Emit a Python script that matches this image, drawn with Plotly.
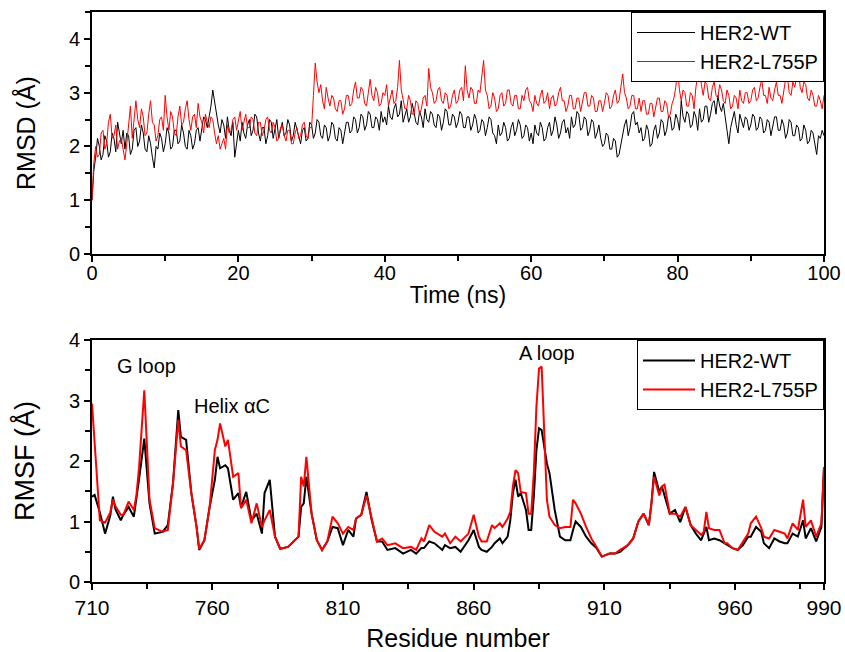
import plotly.graph_objects as go

# ---------------- RMSD (top panel), sampled every 0.25 ns ----------------
time_ns = [i * 0.25 for i in range(401)]

rmsd_wt = [
    1.00, 1.55, 1.80, 2.15, 2.00, 1.75, 1.85, 2.20, 2.10, 1.80, 1.90, 2.25, 2.15, 1.90, 2.45, 2.20, 2.05, 2.30, 1.95, 2.25,
    2.20, 1.85, 1.95, 2.30, 2.35, 2.00, 2.10, 2.40, 2.25, 1.95, 1.90, 2.20, 2.05, 1.80, 1.60, 2.00, 1.95, 2.25, 2.15, 1.90,
    2.05, 2.35, 2.25, 1.95, 2.00, 2.30, 2.30, 2.05, 2.10, 2.40, 2.25, 2.00, 1.95, 2.30, 2.20, 1.95, 2.05, 2.30, 2.35, 2.10,
    2.30, 2.55, 2.50, 2.35, 2.55, 2.75, 3.05, 2.80, 2.55, 2.40, 2.25, 2.50, 2.40, 2.15, 2.55, 2.30, 2.20, 2.45, 1.80, 2.10,
    2.30, 2.10, 2.45, 2.25, 2.15, 2.40, 2.50, 2.20, 2.30, 2.60, 2.55, 2.25, 2.10, 2.35, 2.35, 2.05, 2.20, 2.50, 2.45, 2.15,
    2.30, 2.50, 2.15, 2.30, 2.45, 2.20, 2.25, 2.50, 2.40, 2.10, 2.20, 2.45, 2.30, 2.15, 2.05, 2.30, 2.35, 2.10, 2.15, 2.45,
    2.40, 2.15, 2.25, 2.50, 2.45, 2.20, 2.15, 2.40, 2.35, 2.10, 2.20, 2.45, 2.40, 2.15, 2.10, 2.35, 2.30, 2.05, 2.25, 2.45,
    2.45, 2.25, 2.30, 2.55, 2.50, 2.25, 2.35, 2.60, 2.55, 2.30, 2.40, 2.65, 2.60, 2.35, 2.35, 2.55, 2.50, 2.30, 2.65, 2.45,
    2.55, 2.40, 2.75, 2.55, 2.50, 2.70, 2.80, 2.55, 2.60, 2.85, 2.45, 2.60, 2.70, 2.45, 2.55, 2.80, 2.65, 2.45, 2.40, 2.65,
    2.55, 2.35, 2.70, 2.50, 2.45, 2.65, 2.60, 2.40, 2.35, 2.60, 2.55, 2.30, 2.45, 2.70, 2.65, 2.40, 2.40, 2.60, 2.55, 2.35,
    2.45, 2.65, 2.60, 2.35, 2.35, 2.55, 2.55, 2.30, 2.40, 2.60, 2.50, 2.25, 2.30, 2.50, 2.45, 2.20, 2.35, 2.55, 2.50, 2.25,
    2.20, 2.05, 2.40, 2.20, 2.25, 2.45, 2.35, 2.10, 2.15, 2.35, 2.45, 2.20, 2.30, 2.50, 2.40, 2.15, 2.20, 2.40, 2.35, 2.10,
    2.25, 2.05, 2.40, 2.25, 2.20, 2.45, 2.35, 2.10, 2.15, 2.35, 2.45, 2.20, 2.30, 2.55, 2.40, 2.15, 2.25, 2.45, 2.50, 2.25,
    2.35, 2.15, 2.55, 2.35, 2.40, 2.65, 2.60, 2.30, 2.35, 2.55, 2.50, 2.20, 2.30, 2.50, 2.45, 2.15, 2.25, 2.40, 2.15, 2.00,
    2.05, 2.25, 2.20, 1.95, 1.95, 2.15, 2.10, 1.80, 1.85, 2.05, 2.25, 2.40, 2.50, 2.20, 2.35, 2.60, 2.65, 2.40, 2.45, 2.25,
    2.35, 2.10, 2.15, 2.40, 2.30, 2.00, 2.05, 2.30, 2.40, 2.15, 2.25, 2.50, 2.45, 2.20, 2.30, 2.55, 2.55, 2.30, 2.35, 2.60,
    2.50, 2.30, 2.85, 2.55, 2.45, 2.65, 2.60, 2.35, 2.40, 2.65, 2.55, 2.30, 2.70, 2.45, 2.50, 2.75, 2.75, 2.45, 2.60, 2.80,
    2.85, 2.60, 2.95, 2.75, 2.65, 2.80, 2.55, 2.30, 2.05, 2.35, 2.50, 2.65, 2.40, 2.25, 2.60, 2.45, 2.35, 2.55, 2.50, 2.30,
    2.40, 2.60, 2.55, 2.30, 2.35, 2.55, 2.50, 2.25, 2.30, 2.50, 2.45, 2.20, 2.35, 2.55, 2.55, 2.30, 2.30, 2.50, 2.40, 2.15,
    2.25, 2.50, 2.45, 2.20, 2.20, 2.40, 2.35, 2.10, 2.15, 2.40, 2.30, 2.05, 2.10, 2.30, 2.25, 2.00, 1.85, 2.20, 2.15, 2.30,
    2.20,
]

rmsd_mut = [
    1.00, 1.70, 2.00, 1.80, 1.85, 2.25, 2.30, 1.95, 2.05, 2.45, 2.60, 2.15, 2.20, 2.40, 1.95, 2.10, 2.15, 1.90, 1.75, 2.05,
    2.40, 2.75, 2.15, 2.45, 2.85, 2.50, 2.35, 2.70, 2.55, 2.20, 2.25, 2.60, 2.85, 2.45, 2.40, 2.10, 2.20, 2.50, 2.55, 2.30,
    2.95, 2.55, 2.30, 2.65, 2.55, 2.25, 2.20, 2.55, 2.75, 2.40, 2.45, 2.70, 2.85, 2.50, 2.30, 2.55, 2.60, 2.35, 2.80, 2.55,
    2.45, 2.25, 2.60, 2.45, 2.35, 2.55, 2.50, 2.25, 2.05, 2.20, 1.95, 2.05, 2.15, 1.95, 2.40, 2.25, 2.30, 2.50, 2.55, 2.30,
    2.45, 2.65, 2.30, 2.45, 2.60, 2.35, 2.35, 2.55, 2.50, 2.25, 2.20, 2.45, 2.45, 2.20, 2.30, 2.50, 2.55, 2.30, 2.25, 2.45,
    2.35, 2.10, 2.15, 2.35, 2.40, 2.20, 2.10, 2.30, 2.30, 2.05, 2.05, 2.25, 2.35, 2.15, 2.20, 2.40, 2.45, 2.20, 2.15, 2.35,
    2.35, 2.95, 3.55, 3.20, 3.00, 3.15, 2.85, 2.70, 3.10, 2.90, 2.75, 2.95, 2.90, 2.70, 2.65, 2.85, 2.85, 2.60, 2.70, 2.95,
    2.95, 2.75, 2.80, 3.05, 3.20, 2.90, 2.90, 3.10, 3.05, 2.80, 2.75, 3.00, 3.25, 2.95, 2.85, 3.10, 3.00, 2.75, 2.80, 3.00,
    2.95, 3.15, 2.75, 2.90, 3.05, 2.80, 2.85, 3.10, 3.60, 3.05, 2.90, 2.70, 2.70, 2.95, 2.85, 2.60, 2.60, 2.85, 2.80, 2.60,
    2.70, 2.90, 2.95, 2.75, 3.45, 3.10, 3.00, 2.80, 2.85, 3.05, 3.10, 2.85, 2.80, 3.00, 2.95, 2.70, 2.75, 2.95, 3.05, 2.80,
    2.85, 3.05, 3.10, 2.85, 3.50, 3.05, 2.90, 3.10, 3.05, 2.80, 2.80, 3.05, 3.00, 3.25, 3.60, 3.05, 2.95, 2.70, 2.75, 3.00,
    2.90, 2.65, 2.70, 2.95, 3.00, 2.75, 2.80, 3.05, 3.05, 2.80, 2.75, 2.95, 2.95, 2.70, 2.70, 2.95, 2.85, 3.05, 3.10, 2.85,
    2.80, 2.65, 2.95, 2.80, 2.75, 2.95, 3.05, 2.80, 2.85, 3.00, 2.70, 2.90, 2.95, 2.75, 2.80, 3.00, 3.10, 2.85, 2.85, 2.65,
    2.75, 2.95, 2.95, 2.70, 2.70, 2.90, 2.90, 2.65, 2.80, 3.00, 3.00, 2.75, 2.75, 2.95, 2.90, 2.65, 2.65, 2.85, 2.85, 2.65,
    2.80, 3.00, 2.95, 2.70, 2.75, 2.95, 3.05, 2.80, 2.85, 3.10, 3.35, 3.00, 2.90, 2.70, 2.75, 2.95, 2.95, 2.70, 2.70, 2.90,
    2.65, 2.85, 2.85, 2.60, 2.60, 2.80, 2.80, 2.55, 2.70, 2.90, 2.90, 2.65, 2.65, 2.85, 2.80, 2.55, 2.60, 2.80, 2.90, 3.10,
    3.45, 3.05, 2.85, 3.05, 3.00, 2.75, 2.75, 3.00, 2.95, 2.70, 3.10, 3.30, 3.55, 3.15, 2.95, 3.20, 3.15, 2.90, 2.85, 3.10,
    3.20, 2.95, 2.90, 3.15, 3.05, 2.85, 2.80, 3.05, 2.95, 2.70, 2.75, 2.95, 2.90, 2.70, 3.05, 2.85, 2.80, 3.00, 3.00, 2.80,
    2.85, 3.05, 3.10, 2.85, 2.90, 3.10, 3.25, 2.95, 2.95, 2.80, 3.10, 2.90, 2.85, 3.05, 3.20, 2.95, 2.95, 2.80, 3.05, 3.25,
    3.30, 3.00, 2.95, 3.20, 3.10, 3.25, 3.45, 3.10, 3.00, 3.20, 3.15, 2.90, 2.85, 3.05, 2.95, 2.75, 2.75, 2.95, 2.85, 2.70,
    2.95,
]

# ---------------- RMSF (bottom panel) ----------------
residues = [
    714, 715, 717, 719, 721, 722, 723, 725, 726, 728, 730, 731, 732, 734, 736, 738,
    741, 743, 745, 747, 748, 750, 752, 754, 755, 757, 759, 761, 762, 763, 765, 766,
    768, 770, 771, 773, 775, 777, 779, 780, 782, 784, 786, 789, 791, 793, 794, 795,
    796, 798, 800, 802, 804, 806, 808, 810, 812, 814, 815, 817, 819, 821, 823, 825,
    827, 830, 833, 836, 838, 840, 841, 843, 845, 848, 849, 851, 853, 855, 858, 860,
    862, 863, 865, 867, 868, 870, 871, 873, 874, 875, 876, 877, 878, 880, 881, 882,
    883, 884, 885, 886, 888, 889, 891, 893, 895, 897, 898, 899, 901, 903, 905, 907,
    909, 912, 914, 916, 919, 921, 923, 925, 927, 928, 929, 931, 932, 933, 935, 937,
    939, 941, 943, 945, 947, 948, 949, 950, 952, 954, 956, 957, 959, 961, 963, 965,
    966, 968, 970, 971, 973, 975, 977, 979, 980, 982, 984, 986, 987, 989, 991, 993,
    994,
]

rmsf_wt = [
    1.41, 1.44, 1.15, 0.80, 1.10, 1.41, 1.20, 1.02, 1.11, 1.24, 1.08, 1.38, 1.70, 2.37, 1.30, 0.80,
    0.83, 0.94, 1.64, 2.84, 2.40, 2.35, 1.47, 0.91, 0.53, 0.69, 1.24, 1.69, 2.07, 1.88, 1.93, 1.88,
    1.36, 1.47, 1.24, 1.49, 1.02, 1.13, 0.80, 1.47, 1.69, 0.75, 0.55, 0.58, 0.67, 0.75, 1.24, 1.30,
    1.74, 1.13, 0.69, 0.53, 0.67, 0.91, 0.89, 0.61, 0.86, 0.75, 1.05, 1.11, 1.49, 1.02, 0.67, 0.67,
    0.53, 0.56, 0.47, 0.53, 0.47, 0.56, 0.56, 0.67, 0.64, 0.53, 0.61, 0.56, 0.58, 0.50, 0.69, 0.86,
    0.58, 0.53, 0.50, 0.58, 0.64, 0.72, 0.64, 0.75, 1.02, 1.47, 1.69, 1.41, 1.47, 1.19, 0.86, 0.86,
    1.41, 2.18, 2.54, 2.51, 1.96, 1.80, 1.19, 0.75, 0.69, 0.69, 0.86, 1.00, 0.91, 0.75, 0.64, 0.56,
    0.42, 0.47, 0.47, 0.50, 0.61, 0.72, 1.00, 1.13, 0.94, 1.30, 1.82, 1.49, 1.58, 1.43, 1.13, 1.19,
    0.99, 1.24, 0.94, 0.80, 0.69, 0.80, 0.91, 0.69, 0.72, 0.69, 0.64, 0.61, 0.56, 0.53, 0.61, 0.75,
    0.75, 0.91, 0.83, 0.64, 0.56, 0.72, 0.67, 0.64, 0.64, 0.80, 0.75, 1.02, 0.72, 0.89, 0.67, 0.91,
    1.90,
]

rmsf_mut = [
    2.95, 2.30, 1.02, 0.98, 1.15, 1.36, 1.25, 1.11, 1.11, 1.33, 1.19, 1.44, 1.89, 3.17, 1.36, 0.89,
    0.83, 0.86, 1.64, 2.68, 2.24, 2.18, 1.47, 0.91, 0.55, 0.69, 1.24, 2.18, 2.35, 2.62, 2.24, 2.35,
    1.74, 1.80, 1.22, 1.36, 0.97, 1.30, 0.91, 1.02, 1.19, 0.75, 0.55, 0.58, 0.67, 0.75, 1.74, 1.58,
    2.07, 1.13, 0.69, 0.53, 0.67, 1.08, 0.97, 0.80, 0.91, 0.86, 1.05, 1.11, 1.43, 1.02, 0.67, 0.72,
    0.61, 0.64, 0.56, 0.58, 0.53, 0.72, 0.67, 0.94, 0.83, 0.75, 0.80, 0.64, 0.75, 0.67, 0.80, 1.11,
    0.75, 0.67, 0.67, 0.94, 0.89, 0.97, 0.91, 1.05, 1.16, 1.58, 1.85, 1.80, 1.49, 1.47, 1.13, 1.13,
    1.80, 2.90, 3.53, 3.56, 1.36, 1.08, 0.94, 0.89, 0.91, 0.91, 1.36, 1.30, 1.13, 0.91, 0.72, 0.58,
    0.42, 0.47, 0.47, 0.53, 0.61, 0.72, 1.00, 1.13, 0.94, 1.30, 1.74, 1.43, 1.58, 1.61, 1.13, 1.13,
    1.08, 1.24, 0.94, 0.86, 0.78, 0.83, 1.16, 0.89, 0.86, 0.86, 0.64, 0.64, 0.56, 0.53, 0.67, 0.80,
    0.97, 1.08, 0.89, 0.75, 0.72, 0.86, 0.83, 0.80, 0.72, 0.97, 0.86, 1.36, 0.91, 1.02, 0.75, 0.97,
    1.90,
]

series_names = ["HER2-WT", "HER2-L755P"]
res_tickvals = [714, 760, 810, 860, 910, 960, 994]
res_ticktext = ["710", "760", "810", "860", "910", "960", "990"]

annotations_text = ["G loop", "Helix αC", "A loop"]
annotations_x = [735, 767.5, 888]
annotations_y = [3.57, 2.91, 3.79]

FONT = "Liberation Sans, Arial, sans-serif"

fig = go.Figure()
fig.add_trace(go.Scatter(x=time_ns, y=rmsd_wt, mode="lines", name=series_names[0],
                         line=dict(color="black", width=1), xaxis="x", yaxis="y", legend="legend"))
fig.add_trace(go.Scatter(x=time_ns, y=rmsd_mut, mode="lines", name=series_names[1],
                         line=dict(color="#ff0000", width=1), xaxis="x", yaxis="y", legend="legend"))
fig.add_trace(go.Scatter(x=residues, y=rmsf_wt, mode="lines", name=series_names[0],
                         line=dict(color="black", width=2), xaxis="x2", yaxis="y2", legend="legend2"))
fig.add_trace(go.Scatter(x=residues, y=rmsf_mut, mode="lines", name=series_names[1],
                         line=dict(color="#ff0000", width=2), xaxis="x2", yaxis="y2", legend="legend2"))

axis_common = dict(showline=True, linecolor="black", linewidth=2, mirror=True,
                   ticks="outside", ticklen=6, tickwidth=1.5, tickcolor="black",
                   showgrid=False, zeroline=False, automargin=False)
minor_common = dict(ticks="outside", ticklen=5, tickwidth=1.5, tickcolor="black", showgrid=False)

top_dom = [(582 - 254) / 570, 1.0]
bot_dom = [0.0, (582 - 340) / 570]

fig.update_layout(
    template="none",
    width=845, height=652,
    margin=dict(l=92, r=21, t=12, b=70),
    paper_bgcolor="white", plot_bgcolor="white",
    font=dict(family=FONT, color="black"),
    xaxis=dict(domain=[0, 1], anchor="y", range=[0, 100], tickvals=[0, 20, 40, 60, 80, 100],
               minor=dict(tickvals=[10, 30, 50, 70, 90], **minor_common),
               tickfont=dict(size=20), ticklabelstandoff=-6,
               title=dict(text="Time (ns)", font=dict(size=23), standoff=4),
               **axis_common),
    yaxis=dict(domain=top_dom, anchor="x", range=[0, 4.5], tickvals=[0, 1, 2, 3, 4],
               minor=dict(tickvals=[0.5, 1.5, 2.5, 3.5, 4.5], **minor_common),
               tickfont=dict(size=20),
               title=dict(text="RMSD (Å)", font=dict(size=25), standoff=26),
               **axis_common),
    xaxis2=dict(domain=[0, 1], anchor="y2", range=[714, 994], tickvals=res_tickvals, ticktext=res_ticktext,
                minor=dict(tickvals=[735, 785, 835, 885, 935, 985], **minor_common),
                tickfont=dict(size=21),
                title=dict(text="Residue number", font=dict(size=25), standoff=12),
                **axis_common),
    yaxis2=dict(domain=bot_dom, anchor="x2", range=[0, 4], tickvals=[0, 1, 2, 3, 4],
                minor=dict(tickvals=[0.5, 1.5, 2.5, 3.5], **minor_common),
                tickfont=dict(size=20),
                title=dict(text="RMSF (Å)", font=dict(size=27), standoff=26),
                **axis_common),
    legend=dict(x=1, y=1, xanchor="right", yanchor="top", bgcolor="white",
                bordercolor="black", borderwidth=1, font=dict(size=20), itemwidth=58,
                tracegroupgap=0),
    legend2=dict(x=1, y=bot_dom[1], xanchor="right", yanchor="top", bgcolor="white",
                 bordercolor="black", borderwidth=1, font=dict(size=20), itemwidth=52,
                 tracegroupgap=0),
    showlegend=True,
)

for txt, ax, ay in zip(annotations_text, annotations_x, annotations_y):
    fig.add_annotation(x=ax, y=ay, xref="x2", yref="y2", text=txt, showarrow=False,
                       font=dict(size=20, color="black"))

fig.write_html("out.html", config={"displayModeBar": False},
               post_script="document.body.style.margin='0';document.body.style.overflow='hidden';")
